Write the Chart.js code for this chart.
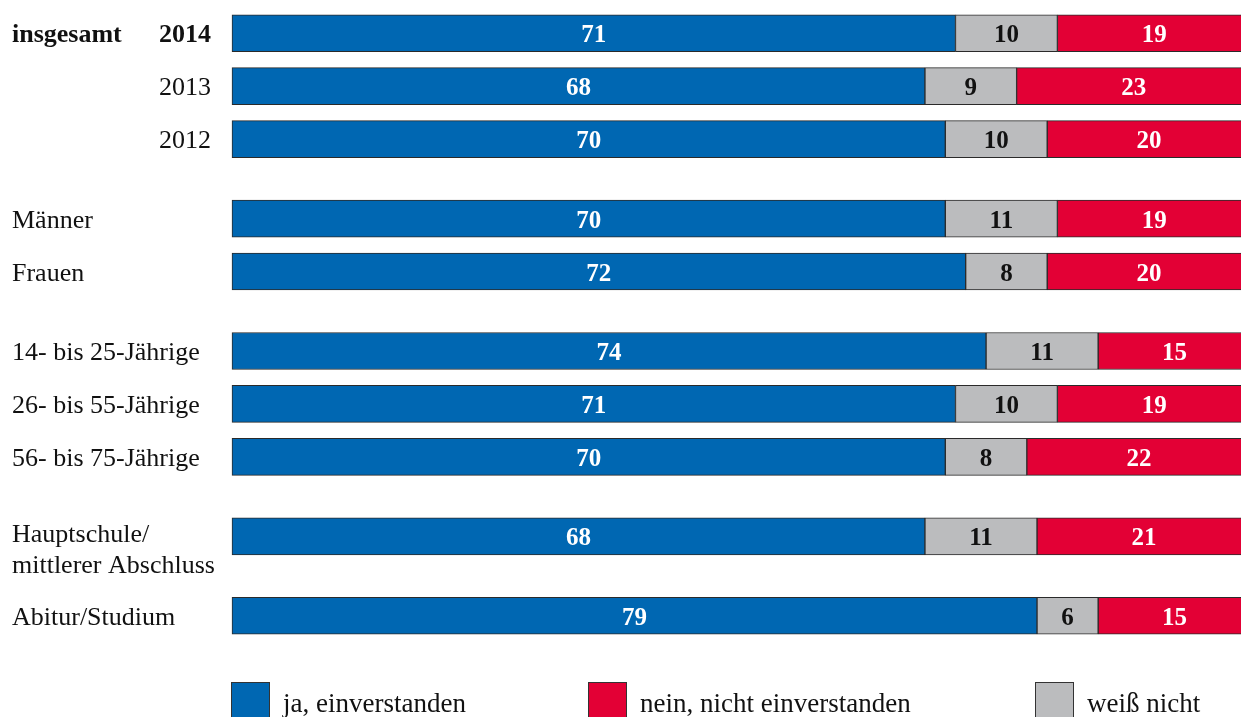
<!DOCTYPE html>
<html>
<head>
<meta charset="utf-8">
<script src="https://cdn.jsdelivr.net/npm/chart.js@4.4.0/dist/chart.umd.min.js"></script>
<style>
html,body{margin:0;padding:0;background:#fff;overflow:hidden;}
canvas{display:block;}
</style>
</head>
<body>
<canvas id="c" width="1251" height="717" style="width:1251px;height:717px"></canvas>
<script>
const groupTitle = 'insgesamt';
const categories = ['2014','2013','2012','Männer','Frauen','14- bis 25-Jährige','26- bis 55-Jährige','56- bis 75-Jährige','Hauptschule/\nmittlerer Abschluss','Abitur/Studium'];
const groupSizes = [3, 2, 3, 1, 1];
const jaValues = [71, 68, 70, 70, 72, 74, 71, 70, 68, 79];
const weissValues = [10, 9, 10, 11, 8, 11, 10, 8, 11, 6];
const neinValues = [19, 23, 20, 19, 20, 15, 19, 22, 21, 15];
const seriesNames = ['ja, einverstanden', 'weiß nicht', 'nein, nicht einverstanden'];

const BLUE = '#0067b2', GREY = '#bbbcbe', RED = '#e30035';
const FONT = '"Liberation Serif", "DejaVu Serif", serif';

// build slot layout: spacer between items, two spacers between groups
const slots = [];
let k = 0;
groupSizes.forEach((n, g) => {
  if (g > 0) { slots.push(null); slots.push(null); }
  for (let i = 0; i < n; i++) {
    if (i > 0) slots.push(null);
    slots.push(k++);
  }
});
const slotLabels = slots.map(s => s === null ? '' : categories[s]);
const pick = arr => slots.map(s => s === null ? null : arr[s]);

const labelPlugin = {
  id: 'labels',
  afterDatasetsDraw(chart) {
    const ctx = chart.ctx;
    ctx.save();
    // value labels
    chart.data.datasets.forEach((ds, di) => {
      const meta = chart.getDatasetMeta(di);
      meta.data.forEach((bar, i) => {
        const v = ds.data[i];
        if (v === null || v === undefined) return;
        const p = bar.getProps(['x', 'y', 'base'], true);
        const cx = (p.x + p.base) / 2;
        ctx.font = 'bold 25px ' + FONT;
        ctx.fillStyle = di === 1 ? '#111' : '#fff';
        ctx.textAlign = 'center';
        ctx.textBaseline = 'alphabetic';
        ctx.fillText(String(v), cx, p.y + 9);
      });
    });
    // category labels
    const y = chart.scales.y;
    slots.forEach((s, si) => {
      if (s === null) return;
      const cy = y.getPixelForValue(si);
      const lines = categories[s].split('\n');
      ctx.fillStyle = '#111';
      ctx.textBaseline = 'alphabetic';
      if (s < groupSizes[0]) {
        ctx.textAlign = 'right';
        ctx.font = (s === 0 ? 'bold ' : '') + '26px ' + FONT;
        ctx.fillText(lines[0], 211, cy + 9);
        if (s === 0) {
          ctx.textAlign = 'left';
          ctx.fillText(groupTitle, 12, cy + 9);
        }
      } else {
        ctx.textAlign = 'left';
        ctx.font = '26px ' + FONT;
        if (lines.length === 1) {
          ctx.fillText(lines[0], 12, cy + 9);
        } else {
          ctx.fillText(lines[0], 12, cy + 6);
          ctx.fillText(lines[1], 12, cy + 37);
        }
      }
    });
    // legend
    const order = [0, 2, 1];
    const boxX = [231, 588, 1035];
    order.forEach((di, j) => {
      const ds = chart.data.datasets[di];
      ctx.fillStyle = ds.backgroundColor;
      ctx.fillRect(boxX[j], 682, 39, 40);
      ctx.strokeStyle = '#333';
      ctx.lineWidth = 1;
      ctx.strokeRect(boxX[j] + 0.5, 682.5, 38, 40);
      ctx.fillStyle = '#111';
      ctx.font = '27px ' + FONT;
      ctx.textAlign = 'left';
      ctx.fillText(ds.label, boxX[j] + 52, 712);
    });
    ctx.restore();
  }
};

function draw() {
  new Chart(document.getElementById('c'), {
    type: 'bar',
    data: {
      labels: slotLabels,
      datasets: [
        { label: seriesNames[0], data: pick(jaValues), backgroundColor: BLUE },
        { label: seriesNames[1], data: pick(weissValues), backgroundColor: GREY },
        { label: seriesNames[2], data: pick(neinValues), backgroundColor: RED }
      ]
    },
    options: {
      indexAxis: 'y',
      responsive: false,
      animation: false,
      devicePixelRatio: 1,
      layout: { padding: { left: 232, right: 0, top: 20, bottom: 88 } },
      datasets: { bar: { barThickness: 37, borderWidth: 1, borderColor: '#2a2a2a', borderSkipped: false, clip: false } },
      scales: {
        x: { stacked: true, min: 0, max: 100, display: false },
        y: { stacked: true, display: false }
      },
      plugins: { legend: { display: false }, tooltip: { enabled: false } }
    },
    plugins: [labelPlugin]
  });
}
Promise.all([
  document.fonts.load('26px "Liberation Serif"'),
  document.fonts.load('bold 25px "Liberation Serif"')
]).then(draw, draw);
</script>
</body>
</html>
